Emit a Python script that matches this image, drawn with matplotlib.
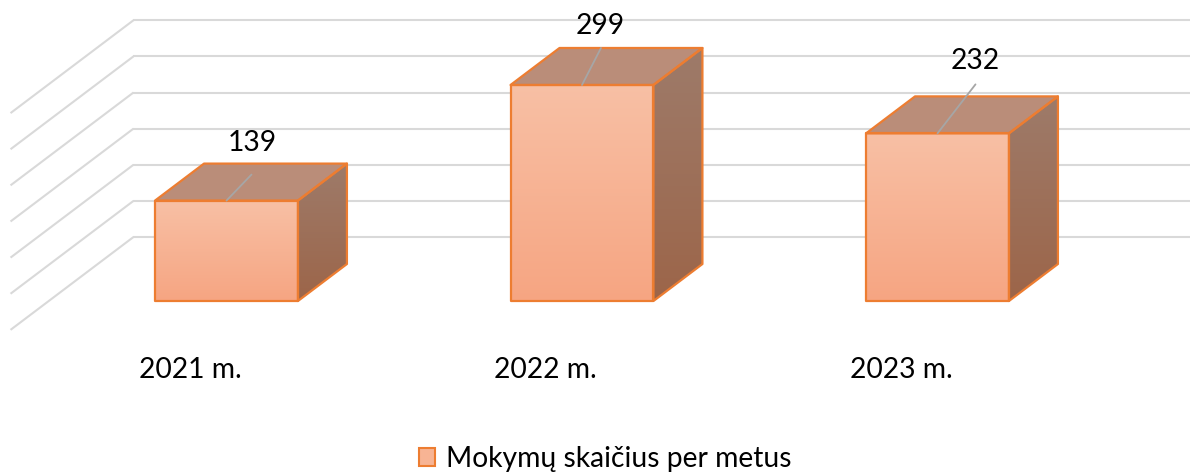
import numpy as np
import matplotlib.pyplot as plt
from matplotlib.patches import Polygon, Patch
from matplotlib.colors import LinearSegmentedColormap

# data
years = ["2021 m.", "2022 m.", "2023 m."]
counts = [139, 299, 232]
grid_values = [0, 50, 100, 150, 200, 250, 300]
series_name = "Mokymų skaičius per metus"

plt.rcParams['font.family'] = ['Lato', 'DejaVu Sans']

# fake 3d geometry (category units / value units)
half_w = 0.201          # half bar width
ddx, ddy = 0.1378, 51.2  # screen shift for one unit of depth
wall_d = 1.73            # depth of back wall
front_d = -0.78          # depth of floor front edge
left = -0.5

edge = "#ED7D31"
grid_c = "#D9D9D9"

fig = plt.figure(figsize=(11.9, 4.75), dpi=100)
ax = fig.add_axes([0, 0, 1, 1])

# back wall gridlines + side wall diagonals
for g in grid_values:
    xb = left + wall_d * ddx
    yb = g + wall_d * ddy
    ax.plot([xb, 3.0], [yb, yb], color=grid_c, lw=1.5, zorder=1, solid_capstyle='butt')
    ax.plot([xb, left + front_d * ddx], [yb, g + front_d * ddy],
            color=grid_c, lw=1.5, zorder=1, solid_capstyle='butt')

front_cm = LinearSegmentedColormap.from_list("front", ["#F6A582", "#F8C0A5"])
side_cm = LinearSegmentedColormap.from_list("side", ["#9C6549", "#9E7B6A"])
grad = np.linspace(0, 1, 256).reshape(-1, 1)


def shaded(poly, cmap, ext):
    ax.add_patch(poly)
    im = ax.imshow(grad, cmap=cmap, extent=ext, origin='lower', aspect='auto',
                   zorder=poly.get_zorder(), interpolation='bilinear')
    im.set_clip_path(poly)
    ol = Polygon(poly.get_xy(), closed=True, fill=False, edgecolor=edge,
                 lw=1.6, joinstyle='round', zorder=poly.get_zorder() + 0.5)
    ax.add_patch(ol)


for i, v in enumerate(counts):
    x0, x1 = i - half_w, i + half_w
    zo = 3 + i
    front = Polygon([(x0, 0), (x1, 0), (x1, v), (x0, v)], closed=True,
                    facecolor="none", edgecolor="none", zorder=zo)
    shaded(front, front_cm, [x0, x1, 0, v])
    side = Polygon([(x1, 0), (x1 + ddx, ddy), (x1 + ddx, v + ddy), (x1, v)],
                   closed=True, facecolor="none", edgecolor="none", zorder=zo)
    shaded(side, side_cm, [x1, x1 + ddx, 0, v + ddy])
    top = Polygon([(x0, v), (x1, v), (x1 + ddx, v + ddy), (x0 + ddx, v + ddy)],
                  closed=True, facecolor="#BA8D79", edgecolor=edge, lw=1.6,
                  joinstyle='round', zorder=zo + 0.2)
    ax.add_patch(top)

# data labels with leader lines (offsets in pixels from top-front centre)
lab_off = [(26, 58), (18, 59), (38, 72)]
lead_off = [(25, 26), (19, 37), (38, 49)]
px = 72 / 100
for i, v in enumerate(counts):
    lx, ly = lead_off[i]
    ax.annotate("", xy=(i, v), xytext=(lx * px, ly * px), textcoords='offset points',
                arrowprops=dict(arrowstyle='-', color='#A6A6A6', lw=1.3,
                                shrinkA=0, shrinkB=0), zorder=10)
    tx, ty = lab_off[i]
    ax.annotate(str(v), xy=(i, v), xytext=(tx * px, ty * px), textcoords='offset points',
                ha='center', va='center', fontsize=20.3, color='black', zorder=11)

# category labels in front of the floor
for i, name in enumerate(years):
    ax.text(i + front_d * ddx + 0.005, -95.5, name, ha='center', va='center',
            fontsize=20.3, color='black')

handle = Patch(facecolor="#F7B494", edgecolor=edge, lw=1.5)
fig.legend([handle], [series_name], loc='center', bbox_to_anchor=(0.5085, 1 - 459 / 475),
           frameon=False, fontsize=20.3, handlelength=0.6, handleheight=0.6,
           handletextpad=0.38, borderpad=0)

ax.set_xlim(-0.6371, 2.7103)
ax.set_ylim(-240.8, 416.6)
ax.axis('off')

fig.savefig("out.png", dpi=100)
